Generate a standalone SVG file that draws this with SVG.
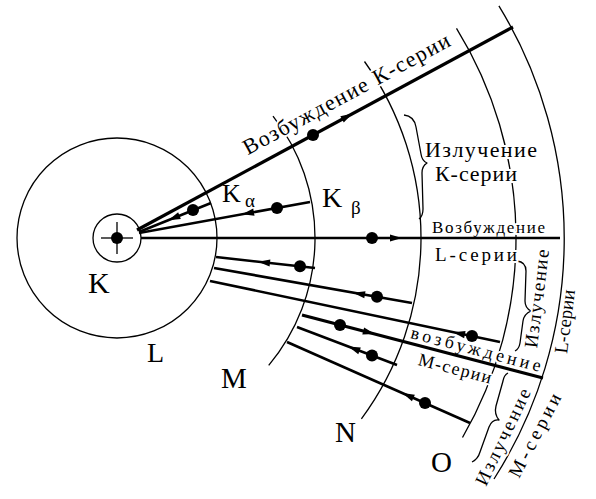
<svg xmlns="http://www.w3.org/2000/svg" width="596" height="499" viewBox="0 0 596 499">
<style>
.arc{fill:none;stroke:#000;stroke-width:1.3}
.br{fill:none;stroke:#000;stroke-width:1.3;stroke-linejoin:round}
.ln{stroke:#000;stroke-width:2.6;fill:none;stroke-linecap:butt}
.thk{stroke-width:3.2}
.t{font-family:"Liberation Serif","Times New Roman",serif;fill:#000;stroke:#fff;stroke-width:4;paint-order:stroke;stroke-linejoin:round}
.lbl{font-family:"Liberation Serif","Times New Roman",serif;fill:#000}
.dot{fill:#000}
</style>
<defs>
<path id="ar" d="M-7,-3.6 L5,0 L-7,3.6 Z" fill="#000"/>
</defs>
<rect width="596" height="499" fill="#fff"/>

<g id="shell-K">
<circle class="arc" cx="117" cy="238" r="24"/>
<circle class="dot" cx="117" cy="238" r="6"/>
<line x1="101" y1="238" x2="133" y2="238" stroke="#000" stroke-width="1.3"/>
<line x1="117" y1="222" x2="117" y2="254" stroke="#000" stroke-width="1.3"/>
</g>
<g id="shell-L"><circle class="arc" cx="117" cy="238" r="100"/></g>
<g id="shell-M"><path class="arc" d="M273,116.1 A198,198 0 0 1 268.7,365.3"/></g>
<g id="shell-N"><path class="arc" d="M364.5,61.5 A304,304 0 0 1 361.4,418.8"/></g>
<g id="shell-O"><path class="arc" d="M456.5,28.3 A399,399 0 0 1 462.5,437.5"/></g>
<g id="boundary"><path class="arc" d="M498.9,5.8 A447,447 0 0 1 494,479"/></g>

<g id="braces">
<path class="br" d="M404,115 Q414,116 416,127 L421,154 Q422,161 427,163 Q422,166 422,173 L423,209 Q423,216 419,219"/>
<path class="br" d="M517,261 Q526,262 526,271 L525,301 Q525,308 531,311 Q524,314 523,321 L520,343 Q519,349 515,351"/>
<path class="br" d="M508,373 Q504,375 503,381 L496,406 Q494,414 499,420 Q492,419 489,427 L480,452 Q478,459 472,462"/>
</g>

<g id="texts">
<text class="t" transform="translate(137,230) rotate(-28.37)" x="133" y="-13" font-size="22" textLength="232" lengthAdjust="spacing">Возбуждение К-серии</text>
<text class="t" x="425" y="157" font-size="22" textLength="112" lengthAdjust="spacing">Излучение</text>
<text class="t" x="435" y="181" font-size="22" textLength="82" lengthAdjust="spacing">К-серии</text>
<text class="t" x="432" y="233" font-size="17" textLength="113" lengthAdjust="spacing">Возбуждение</text>
<text class="t" x="435" y="261" font-size="19" textLength="82" lengthAdjust="spacing">L-серии</text>
<text class="t" transform="translate(537,348.5) rotate(-83)" x="0" y="0" font-size="19" textLength="99" lengthAdjust="spacing">Излучение</text>
<text class="t" transform="translate(567,354) rotate(-82.8)" x="0" y="0" font-size="19" textLength="64" lengthAdjust="spacing">L-серии</text>
<text class="t" transform="translate(302,315) rotate(14.65)" x="110" y="-5" font-size="18" textLength="134" lengthAdjust="spacing">возбуждение</text>
<text class="t" transform="translate(302,315) rotate(14.65)" x="124" y="19" font-size="18" textLength="75" lengthAdjust="spacing">М-серии</text>
<text class="t" transform="translate(486,487) rotate(-64.5)" x="0" y="0" font-size="19" textLength="105" lengthAdjust="spacing">Излучение</text>
<text class="t" transform="translate(519,479) rotate(-62.4)" x="0" y="0" font-size="19" textLength="92" lengthAdjust="spacing">М-серии</text>
</g>

<g id="connectors">
<line class="ln thk" x1="137" y1="230" x2="513" y2="27"/>
<line class="ln" x1="139" y1="232" x2="211" y2="203"/>
<line class="ln" x1="139" y1="233" x2="310" y2="202"/>
<line class="ln" x1="141" y1="238" x2="560" y2="238"/>
<line class="ln" x1="216" y1="257" x2="315" y2="268"/>
<line class="ln" x1="214" y1="268" x2="412" y2="303"/>
<line class="ln" x1="210" y1="281" x2="500" y2="342"/>
<line class="ln thk" x1="302" y1="315" x2="543" y2="378"/>
<line class="ln" x1="297" y1="327" x2="397" y2="365"/>
<line class="ln" x1="287" y1="342" x2="470" y2="423"/>
</g>

<g id="electrons">
<circle class="dot" cx="313" cy="135" r="6"/>
<circle class="dot" cx="193" cy="210" r="6"/>
<circle class="dot" cx="277" cy="208" r="6"/>
<circle class="dot" cx="372" cy="238" r="6"/>
<circle class="dot" cx="300" cy="266.3" r="6"/>
<circle class="dot" cx="377" cy="296.8" r="6"/>
<circle class="dot" cx="472" cy="336.1" r="6"/>
<circle class="dot" cx="340" cy="324.9" r="6"/>
<circle class="dot" cx="372" cy="355.5" r="6"/>
<circle class="dot" cx="425" cy="403.1" r="6"/>
</g>

<g id="arrows">
<use href="#ar" transform="translate(348.2,116) rotate(-28.37)"/>
<use href="#ar" transform="translate(173,218.3) rotate(158.1)"/>
<use href="#ar" transform="translate(247,213.4) rotate(169.7)"/>
<use href="#ar" transform="translate(397,238) rotate(0)"/>
<use href="#ar" transform="translate(263,262.2) rotate(186.34)"/>
<use href="#ar" transform="translate(358,293.5) rotate(190.02)"/>
<use href="#ar" transform="translate(458,333.2) rotate(191.88)"/>
<use href="#ar" transform="translate(370,332.8) rotate(14.65)"/>
<use href="#ar" transform="translate(353,348.3) rotate(200.81)"/>
<use href="#ar" transform="translate(407,395.1) rotate(203.87)"/>
</g>

<g id="labels">
<text class="lbl" x="88" y="293" font-size="30">K</text>
<text class="lbl" x="147" y="362" font-size="28">L</text>
<text class="lbl" x="221" y="388" font-size="29">M</text>
<text class="lbl" x="335" y="442" font-size="29">N</text>
<text class="lbl" x="431" y="472" font-size="29">O</text>
<text class="lbl" x="222" y="202" font-size="26">K</text>
<text class="lbl" x="245" y="207" font-size="19">α</text>
<text class="lbl" x="322" y="207" font-size="28">K</text>
<text class="lbl" x="351" y="214" font-size="19">β</text>
</g>
</svg>
